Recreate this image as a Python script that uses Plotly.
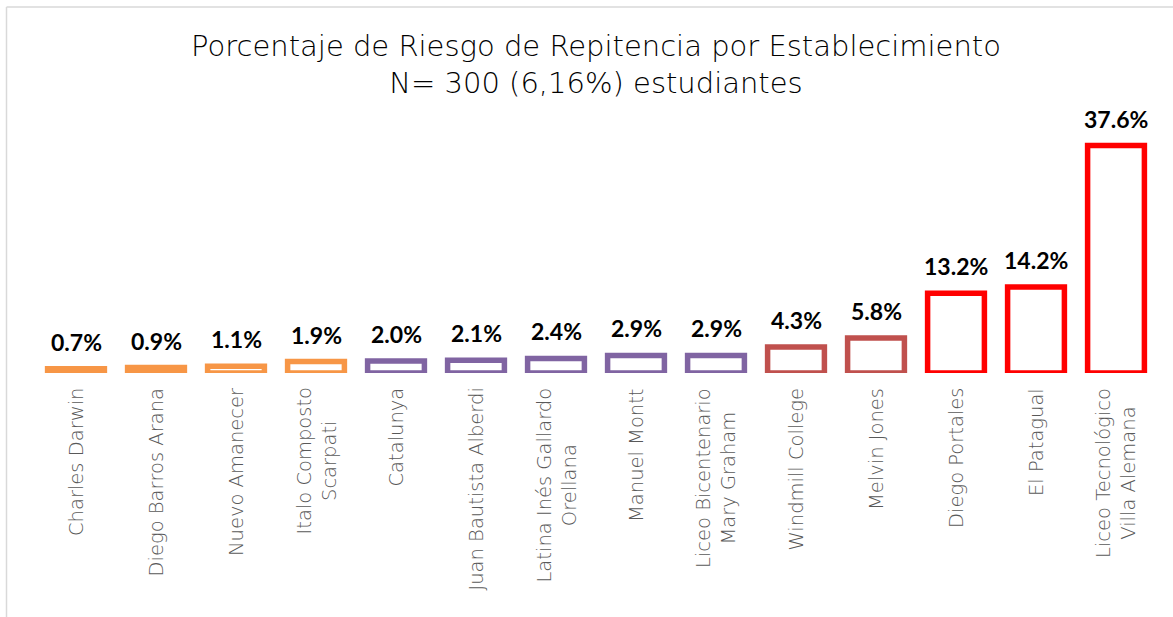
import plotly.graph_objects as go

categories = ["Charles Darwin", "Diego Barros Arana", "Nuevo Amanecer", "Italo Composto<br>Scarpati",
              "Catalunya", "Juan Bautista Alberdi", "Latina Inés Gallardo<br>Orellana", "Manuel Montt",
              "Liceo Bicentenario<br>Mary Graham", "Windmill College", "Melvin Jones", "Diego Portales",
              "El Patagual", "Liceo Tecnológico<br>Villa Alemana"]
values = [0.7, 0.9, 1.1, 1.9, 2.0, 2.1, 2.4, 2.9, 2.9, 4.3, 5.8, 13.2, 14.2, 37.6]
value_labels = ["0.7%", "0.9%", "1.1%", "1.9%", "2.0%", "2.1%", "2.4%", "2.9%", "2.9%",
                "4.3%", "5.8%", "13.2%", "14.2%", "37.6%"]
ORANGE, PURPLE, BROWN, RED = "#F79646", "#8064A2", "#C0504D", "#FF0000"
bar_colors = [ORANGE] * 4 + [PURPLE] * 5 + [BROWN] * 2 + [RED] * 3

W, H = 1173, 617
ML, MR, MT, MB = 36, 17, 100, 244
PW, PH = W - ML - MR, H - MT - MB

x_idx = list(range(len(categories)))

fig = go.Figure()
fig.add_trace(go.Bar(
    x=x_idx, y=values, width=0.71,
    marker=dict(color="white", line=dict(color=bar_colors, width=5.5)),
    hoverinfo="skip", showlegend=False,
))

annotations = []
for i, (v, lab) in enumerate(zip(values, value_labels)):
    annotations.append(dict(
        x=i, y=v, xref="x", yref="y", text=f"<b>{lab}</b>", showarrow=False,
        yanchor="bottom", xanchor="center", yshift=11,
        font=dict(family="Lato", size=23, color="#000000"),
    ))
for i, c in enumerate(categories):
    annotations.append(dict(
        x=i, y=0, xref="x", yref="y", text=c, showarrow=False, textangle=-90,
        yanchor="top", xanchor="center", yshift=-13, align="center",
        font=dict(family="DejaVu Sans", size=19.5, color="#595959", weight=300),
    ))


def px_x(p):
    return (p - ML) / PW


def px_y(p):
    return (H - MB - p) / PH


shapes = [
    dict(type="line", xref="paper", yref="paper", x0=px_x(6.5), x1=px_x(6.5), y0=px_y(7), y1=px_y(H + 5),
         line=dict(color="#D9D9D9", width=1.5)),
    dict(type="line", xref="paper", yref="paper", x0=px_x(6.5), x1=px_x(W + 5), y0=px_y(7), y1=px_y(7),
         line=dict(color="#D9D9D9", width=1.5)),
]

fig.update_layout(
    width=W, height=H,
    margin=dict(l=ML, r=MR, t=MT, b=MB),
    paper_bgcolor="white", plot_bgcolor="white",
    title=dict(text="Porcentaje de Riesgo de Repitencia por Establecimiento<br>N= 300 (6,16%) estudiantes",
               x=0.5, xref="paper", xanchor="center", y=0.91, yref="container", yanchor="top",
               font=dict(family="DejaVu Sans", size=29, color="#000000", weight=200)),
    xaxis=dict(range=[-0.5, len(categories) - 0.5], showticklabels=False, showgrid=False,
               zeroline=False, showline=False, ticks=""),
    yaxis=dict(range=[0, PH / 6.05], showticklabels=False, showgrid=False, zeroline=False,
               showline=False, ticks=""),
    annotations=annotations,
    shapes=shapes,
    bargap=0.29,
)

fig.write_html("out.html", config={"displayModeBar": False},
               post_script="document.body.style.margin='0';document.body.style.overflow='hidden';")
